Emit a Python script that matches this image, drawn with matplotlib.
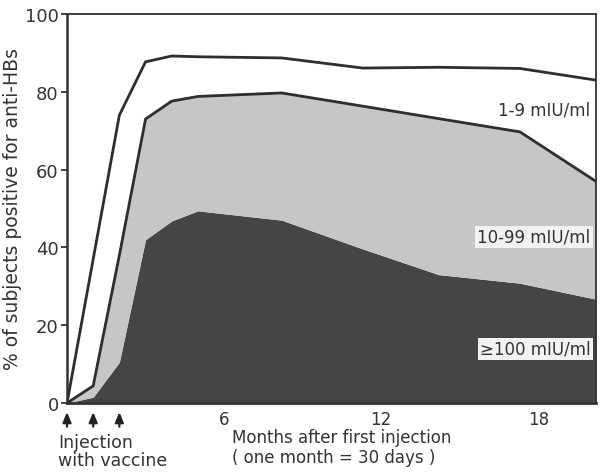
import matplotlib
matplotlib.use("Agg")
import matplotlib.pyplot as plt
import numpy as np

# Data
months = [0, 1, 2, 3, 4, 5, 8.2, 11.3, 14.2, 17.3, 20.2]
any_positive = [0, 37, 74, 87.7, 89.2, 89.0, 88.7, 86.1, 86.3, 86.0, 83.0]      # >=1 mIU/ml (top line)
ge10 = [0, 4.4, 38, 73, 77.6, 78.8, 79.7, 76.3, 73.1, 69.7, 57.0]               # >=10 mIU/ml (middle line)
ge100 = [0, 1.5, 10.5, 42, 46.8, 49.4, 47.0, 39.6, 33.0, 30.8, 26.7]            # >=100 mIU/ml
injection_months = [0, 1, 2]
band_labels = ["1-9 mIU/ml", "10-99 mIU/ml", "\u2265100 mIU/ml"]
x_ticks = [6, 12, 18]
y_ticks = [0, 20, 40, 60, 80, 100]

plt.rcParams['font.family'] = ['DejaVu Sans']
fig = plt.figure(figsize=(6, 4.77), dpi=100)
ax = fig.add_axes([0.1117, 0.153, 0.8813, 0.8156])

line_col = "#2e2e2e"
ax.fill_between(months, 0, ge100, color="#454545", lw=0, zorder=2)
ax.fill_between(months, ge100, ge10, color="#c6c6c6", lw=0, zorder=2)
ax.plot(months, ge10, color=line_col, lw=2.0, zorder=3, solid_joinstyle="miter")
ax.plot(months, any_positive, color=line_col, lw=2.0, zorder=3, solid_joinstyle="miter")

ax.set_xlim(0, 20.2)
ax.set_ylim(0, 100)
ax.set_xticks(x_ticks)
ax.set_xticklabels([str(t) for t in x_ticks], fontsize=12, color="#333333")
ax.set_yticks(y_ticks)
ax.set_yticklabels([str(t) for t in y_ticks], fontsize=13, color="#333333")
ax.tick_params(axis="x", length=0, pad=5)
ax.tick_params(axis="y", length=4, width=1.3, pad=2, color="#333333")
for s in ax.spines.values():
    s.set_linewidth(1.3)
    s.set_color("#333333")
ax.spines["bottom"].set_linewidth(2.0)
ax.spines["left"].set_linewidth(1.8)

ax.set_ylabel("% of subjects positive for anti-HBs", fontsize=13.5, color="#333333")
ax.yaxis.set_label_coords(-0.085, 0.5)

# band labels
ax.text(20.0, 75.5, band_labels[0], ha="right", va="center", fontsize=12, color="#333333", zorder=5)
ax.text(20.0, 42.7, band_labels[1], ha="right", va="center", fontsize=12, color="#333333", zorder=5,
        bbox=dict(facecolor="#f2f2f2", edgecolor="none", pad=1.5))
ax.text(20.0, 13.9, band_labels[2], ha="right", va="center", fontsize=12, color="#333333", zorder=5,
        bbox=dict(facecolor="#f2f2f2", edgecolor="none", pad=1.5))

# injection arrows
trans = ax.get_xaxis_transform()
for m in injection_months:
    ax.annotate("", xy=(m, -0.016), xytext=(m, -0.068), xycoords=trans, textcoords=trans,
                arrowprops=dict(arrowstyle="-|>,head_length=0.6,head_width=0.25", color="#222222", lw=1.6),
                annotation_clip=False)

fig.text(58 / 600, 1 - 452 / 477, "Injection\nwith vaccine", ha="left", va="center", fontsize=12.5,
         color="#333333", linespacing=1.0)
fig.text(232 / 600, 1 - 448 / 477, "Months after first injection\n( one month = 30 days )", ha="left",
         va="center", fontsize=12, color="#333333", linespacing=1.1)

fig.savefig("out.png", dpi=100)
